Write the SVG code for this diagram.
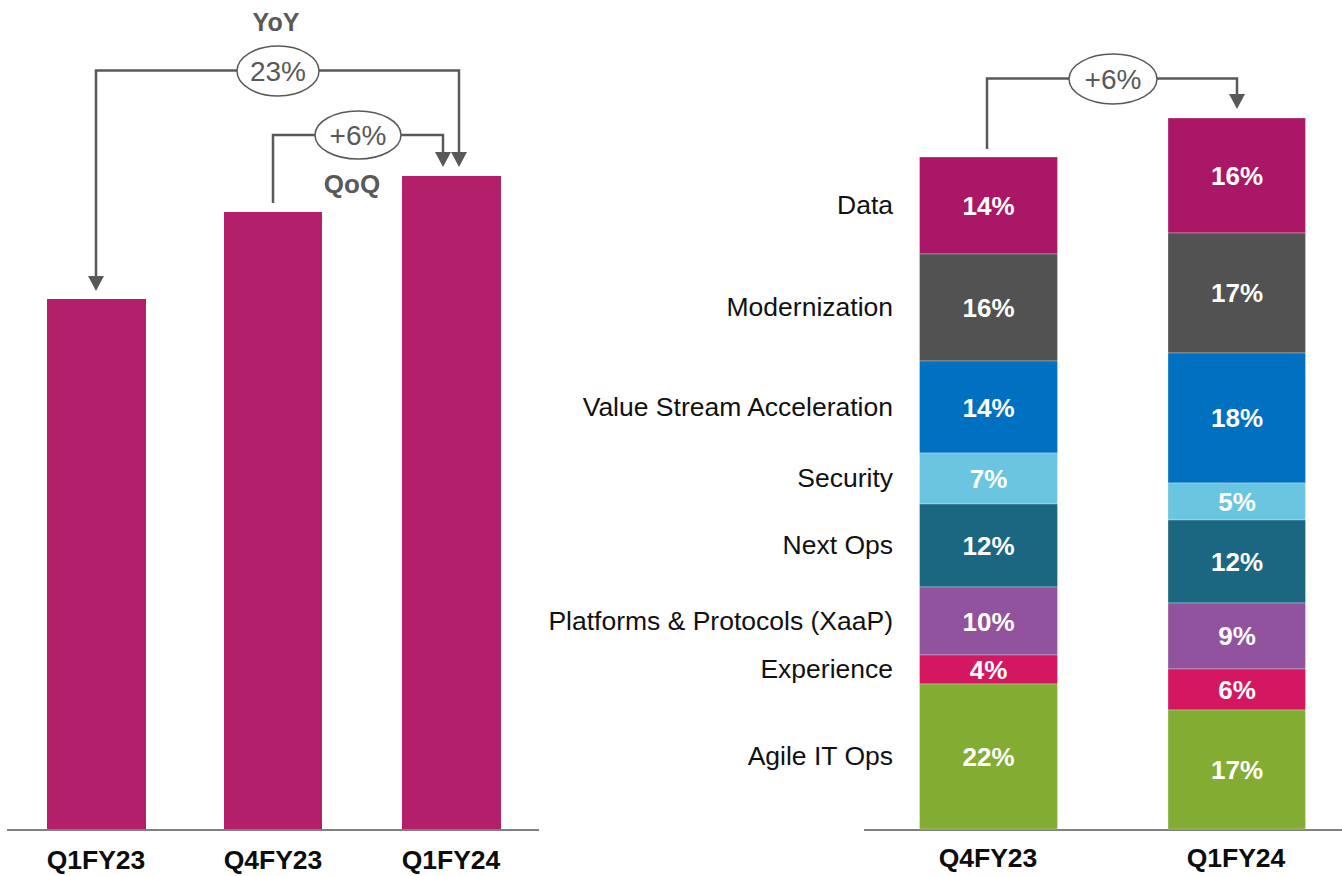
<svg xmlns="http://www.w3.org/2000/svg" width="1342" height="876" viewBox="0 0 1342 876">
<style>
.lbl{font-family:"Liberation Sans",Arial,sans-serif;font-size:26.5px;fill:#111;text-anchor:end}
.val{font-family:"Liberation Sans",Arial,sans-serif;font-size:26px;font-weight:bold;fill:#fff;text-anchor:middle}
.cat{font-family:"Liberation Sans",Arial,sans-serif;font-size:26.5px;font-weight:bold;fill:#0d0d0d;text-anchor:middle}
.gt{font-family:"Liberation Sans",Arial,sans-serif;fill:#595959;text-anchor:middle}
.conn{fill:none;stroke:#595959;stroke-width:2.5}
.oval{fill:#fff;stroke:#595959;stroke-width:1.5}
.axis{stroke:#808080;stroke-width:2}
.seg{stroke:#fff;stroke-width:0.6;stroke-opacity:0.5}
.bar{fill:#B31F6A}
</style>
<defs>
<marker id="ah" markerUnits="userSpaceOnUse" markerWidth="16" markerHeight="16" viewBox="0 0 15 16" refX="7" refY="8" orient="auto">
<path d="M0,0 L15,8 L0,16 z" fill="#595959"/>
</marker>
</defs>
<rect width="1342" height="876" fill="#fff"/>

<!-- Left chart -->
<g id="left-axis">
<line class="axis" x1="7" y1="830" x2="539" y2="830"/>
</g>
<g id="bar-q1fy23"><rect class="bar" x="47" y="299" width="99" height="530"/><text class="cat" x="96" y="869">Q1FY23</text></g>
<g id="bar-q4fy23"><rect class="bar" x="224" y="212" width="98" height="617"/><text class="cat" x="273" y="869">Q4FY23</text></g>
<g id="bar-q1fy24"><rect class="bar" x="402" y="176" width="99" height="653"/><text class="cat" x="451" y="869">Q1FY24</text></g>

<g id="connectors">
<path class="conn" d="M237,70.5 H96 V283" marker-end="url(#ah)"/>
<path class="conn" d="M319,70.5 H459 V159" marker-end="url(#ah)"/>
<path class="conn" d="M315,135 H273 V203"/>
<path class="conn" d="M401,135 H443 V159" marker-end="url(#ah)"/>
<path class="conn" d="M1069,78.5 H987 V149"/>
<path class="conn" d="M1157,78.5 H1237 V101" marker-end="url(#ah)"/>
</g>

<g id="yoy-label">
<text class="gt" x="276" y="31" font-size="25" font-weight="bold">YoY</text>
<ellipse class="oval" cx="278" cy="71" rx="41" ry="25"/>
<text class="gt" x="278" y="81" font-size="28">23%</text>
</g>
<g id="qoq-label">
<ellipse class="oval" cx="358" cy="135" rx="43" ry="24"/>
<text class="gt" x="358" y="145" font-size="28">+6%</text>
<text class="gt" x="352" y="193" font-size="26" font-weight="bold">QoQ</text>
</g>

<!-- Right chart -->
<g id="right-axis">
<line class="axis" x1="864" y1="830" x2="1342" y2="830"/>
</g>
<g id="growth-label">
<ellipse class="oval" cx="1113" cy="79" rx="44" ry="25"/>
<text class="gt" x="1113" y="88.5" font-size="28">+6%</text>
</g>

<g id="categories">
<text class="lbl" x="893" y="214">Data</text>
<text class="lbl" x="893" y="316">Modernization</text>
<text class="lbl" x="893" y="416">Value Stream Acceleration</text>
<text class="lbl" x="893" y="487">Security</text>
<text class="lbl" x="893" y="554">Next Ops</text>
<text class="lbl" x="893" y="630">Platforms &amp; Protocols (XaaP)</text>
<text class="lbl" x="893" y="678">Experience</text>
<text class="lbl" x="893" y="765">Agile IT Ops</text>
</g>

<g id="stack-q4fy23">
<rect class="seg" x="919.5" y="157" width="138" height="97" fill="#AA1766"/>
<rect class="seg" x="919.5" y="254" width="138" height="107" fill="#525252"/>
<rect class="seg" x="919.5" y="361" width="138" height="92" fill="#0070C0"/>
<rect class="seg" x="919.5" y="453" width="138" height="51" fill="#69C5E0"/>
<rect class="seg" x="919.5" y="504" width="138" height="83" fill="#1B6781"/>
<rect class="seg" x="919.5" y="587" width="138" height="68" fill="#92539E"/>
<rect class="seg" x="919.5" y="655" width="138" height="29" fill="#D51660"/>
<rect class="seg" x="919.5" y="684" width="138" height="145" fill="#83AC32"/>
<text class="val" x="988.5" y="215">14%</text>
<text class="val" x="988.5" y="317">16%</text>
<text class="val" x="988.5" y="417">14%</text>
<text class="val" x="988.5" y="488">7%</text>
<text class="val" x="988.5" y="555">12%</text>
<text class="val" x="988.5" y="631">10%</text>
<text class="val" x="988.5" y="679">4%</text>
<text class="val" x="988.5" y="766">22%</text>
<text class="cat" x="988" y="867">Q4FY23</text>
</g>

<g id="stack-q1fy24">
<rect class="seg" x="1168" y="118" width="137.5" height="115" fill="#AA1766"/>
<rect class="seg" x="1168" y="233" width="137.5" height="120" fill="#525252"/>
<rect class="seg" x="1168" y="353" width="137.5" height="130" fill="#0070C0"/>
<rect class="seg" x="1168" y="483" width="137.5" height="37" fill="#69C5E0"/>
<rect class="seg" x="1168" y="520" width="137.5" height="83" fill="#1B6781"/>
<rect class="seg" x="1168" y="603" width="137.5" height="66" fill="#92539E"/>
<rect class="seg" x="1168" y="669" width="137.5" height="41" fill="#D51660"/>
<rect class="seg" x="1168" y="710" width="137.5" height="119" fill="#83AC32"/>
<text class="val" x="1237" y="185">16%</text>
<text class="val" x="1237" y="302">17%</text>
<text class="val" x="1237" y="427">18%</text>
<text class="val" x="1237" y="511">5%</text>
<text class="val" x="1237" y="571">12%</text>
<text class="val" x="1237" y="645">9%</text>
<text class="val" x="1237" y="699">6%</text>
<text class="val" x="1237" y="779">17%</text>
<text class="cat" x="1236" y="867">Q1FY24</text>
</g>
</svg>
